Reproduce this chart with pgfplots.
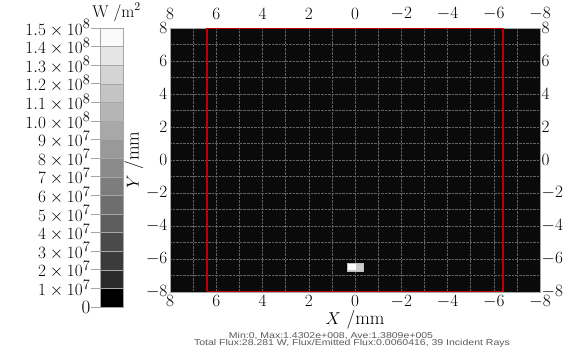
\documentclass[border=0pt]{standalone}
\usepackage{pgfplots}
\pgfplotsset{compat=1.18}
\usepackage{fontspec}
\newfontfamily\arialfont{Liberation Sans}
\newcommand\tfont{\fontsize{19}{19}\selectfont}
\newcommand\cfont{\fontsize{19}{19}\selectfont}
\begin{document}
\begin{tikzpicture}[x=1bp,y=1bp]
\path[use as bounding box] (0,0) rectangle (569,352);
% colour bar
\begin{axis}[
  at={(100bp,45bp)}, anchor=south west,
  width=23bp, height=279bp, scale only axis,
  xmin=0, xmax=1, ymin=0, ymax=15,
  xtick=\empty, ytick={0,1,...,15}, ytick pos=left,
  yticklabels={0,$1\times10^7$,$2\times10^7$,$3\times10^7$,$4\times10^7$,$5\times10^7$,$6\times10^7$,$7\times10^7$,$8\times10^7$,$9\times10^7$,$1.0\times10^8$,$1.1\times10^8$,$1.2\times10^8$,$1.3\times10^8$,$1.4\times10^8$,$1.5\times10^8$},
  tick align=outside, major tick length=9bp,
  tick style={gray!70, line width=0.8pt},
  yticklabel style={font=\cfont, inner sep=0.5bp},
  axis line style={gray!70},
  title={W /m$^2$}, title style={font=\fontsize{17}{17}\selectfont, at={(0.5,1)}, anchor=south, inner sep=0.5bp, yshift=0pt, xshift=5bp},
]
\addplot[fill=black, draw=gray!70] coordinates {(0,0)(1,0)(1,1)(0,1)} --cycle;
\addplot[fill=white!17!black, draw=gray!70] coordinates {(0,1)(1,1)(1,2)(0,2)} --cycle;
\addplot[fill=white!23!black, draw=gray!70] coordinates {(0,2)(1,2)(1,3)(0,3)} --cycle;
\addplot[fill=white!29!black, draw=gray!70] coordinates {(0,3)(1,3)(1,4)(0,4)} --cycle;
\addplot[fill=white!37!black, draw=gray!70] coordinates {(0,4)(1,4)(1,5)(0,5)} --cycle;
\addplot[fill=white!43!black, draw=gray!70] coordinates {(0,5)(1,5)(1,6)(0,6)} --cycle;
\addplot[fill=white!49!black, draw=gray!70] coordinates {(0,6)(1,6)(1,7)(0,7)} --cycle;
\addplot[fill=white!54!black, draw=gray!70] coordinates {(0,7)(1,7)(1,8)(0,8)} --cycle;
\addplot[fill=white!60!black, draw=gray!70] coordinates {(0,8)(1,8)(1,9)(0,9)} --cycle;
\addplot[fill=white!66!black, draw=gray!70] coordinates {(0,9)(1,9)(1,10)(0,10)} --cycle;
\addplot[fill=white!71!black, draw=gray!70] coordinates {(0,10)(1,10)(1,11)(0,11)} --cycle;
\addplot[fill=white!77!black, draw=gray!70] coordinates {(0,11)(1,11)(1,12)(0,12)} --cycle;
\addplot[fill=white!83!black, draw=gray!70] coordinates {(0,12)(1,12)(1,13)(0,13)} --cycle;
\addplot[fill=white!90!black, draw=gray!70] coordinates {(0,13)(1,13)(1,14)(0,14)} --cycle;
\addplot[fill=white!98!black, draw=gray!70] coordinates {(0,14)(1,14)(1,15)(0,15)} --cycle;
\end{axis}
% main map
\begin{axis}[
  at={(170bp,60bp)}, anchor=south west,
  width=370bp, height=264bp, scale only axis,
  xmin=-8, xmax=8, ymin=-8, ymax=8, x dir=reverse,
  xtick={-8,-6,...,8}, ytick={-8,-6,...,8},
  minor xtick={-7,-5,...,7}, minor ytick={-7,-5,...,7},
  grid=both, major grid style={black!62, densely dotted, line width=0.5pt},
  minor grid style={black!62, densely dotted, line width=0.5pt},
  major tick length=0pt, minor tick length=0pt,
  axis background/.style={fill=black!96},
  axis line style={gray!70},
  tick label style={font=\tfont},
  xticklabel style={inner sep=1.5bp, yshift=-2bp},
  yticklabel style={inner sep=2.5bp},
  xlabel={$X$ /mm}, ylabel={$Y$ /mm},
  label style={font=\tfont},
  xlabel style={inner sep=0bp},
  ylabel style={inner sep=0bp},
]
\addplot[draw=red!75!black, line width=1.1pt, sharp plot] coordinates {(6.4,-7.95)(-6.4,-7.95)(-6.4,7.95)(6.4,7.95)(6.4,-7.95)};
\addplot[fill=white!80!black, draw=gray!50] coordinates {(0.35,-6.72)(-0.35,-6.72)(-0.35,-6.25)(0.35,-6.25)} --cycle;
\addplot[fill=white, draw=none] coordinates {(0.3,-6.66)(-0.05,-6.66)(-0.05,-6.31)(0.3,-6.31)} --cycle;
\end{axis}
% labels on the top and right sides
\begin{axis}[
  at={(170bp,60bp)}, anchor=south west,
  width=370bp, height=264bp, scale only axis,
  xmin=-8, xmax=8, ymin=-8, ymax=8, x dir=reverse,
  xtick={-8,-6,...,8}, ytick={-8,-6,...,8},
  xticklabel pos=right, yticklabel pos=right,
  major tick length=0pt, axis line style={draw=none},
  tick label style={font=\tfont},
  xticklabel style={inner sep=0bp, yshift=8bp},
  yticklabel style={inner sep=1.5bp},
]
\end{axis}
\node[font=\arialfont\fontsize{8.5}{9}\selectfont, text=black!65, xscale=1.24] at (331,16) {Min:0, Max:1.4302e+008, Ave:1.3809e+005};
\node[font=\arialfont\fontsize{8.5}{9}\selectfont, text=black!65, xscale=1.24] at (352,8.5) {Total Flux:28.281 W, Flux/Emitted Flux:0.0060416, 39 Incident Rays};
\end{tikzpicture}
\end{document}
